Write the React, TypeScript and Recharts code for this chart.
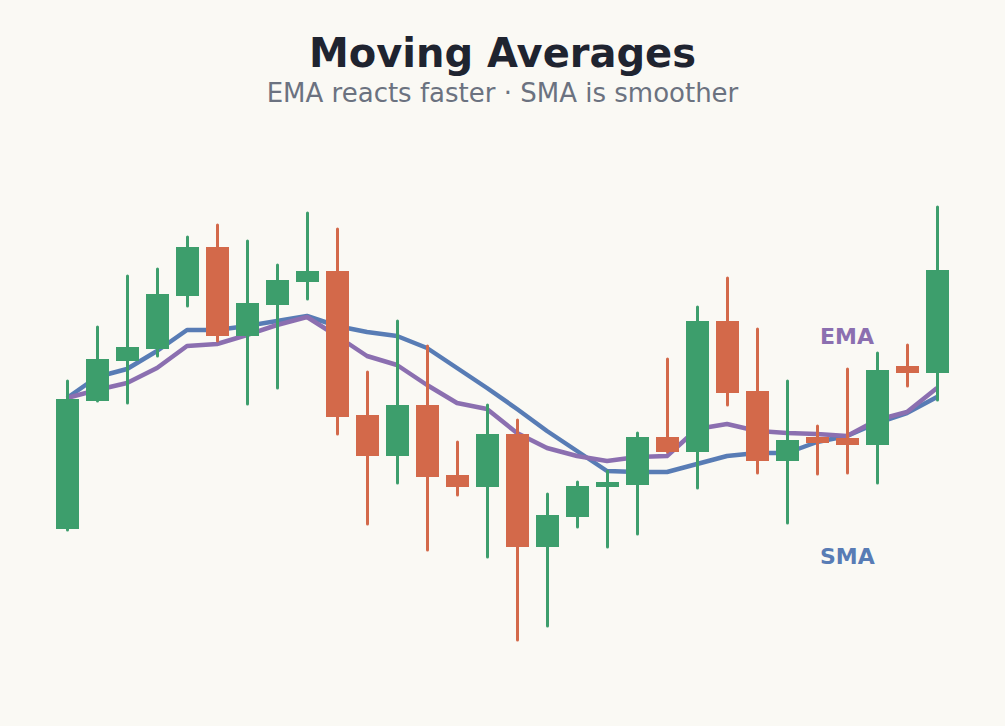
import { ComposedChart, Bar, Line, XAxis, YAxis } from 'recharts';

// candle data (arbitrary price units, no axis shown)
const days = ['1', '2', '3', '4', '5', '6', '7', '8', '9', '10', '11', '12', '13', '14', '15',
    '16', '17', '18', '19', '20', '21', '22', '23', '24', '25', '26', '27', '28', '29', '30'];
const opens = [97.1, 109.9, 113.9, 115.1, 120.4, 125.3, 116.4, 119.5, 121.8, 122.9, 108.5, 104.4, 109.5, 102.5, 101.3,
    106.6, 95.3, 98.3, 101.3, 101.5, 106.3, 104.8, 117.9, 110.9, 103.9, 106.3, 106.2, 105.5, 113.4, 112.7];
const highs = [111.9, 117.3, 122.4, 123.1, 126.3, 127.5, 125.9, 123.5, 128.7, 127.1, 112.8, 117.9, 115.4, 105.8, 109.5,
    108.0, 100.6, 101.8, 102.9, 106.7, 114.1, 119.3, 122.2, 117.1, 111.9, 107.4, 113.1, 114.7, 115.5, 129.3];
const lows = [97.0, 109.9, 109.7, 114.4, 119.4, 115.9, 109.6, 111.2, 120.1, 106.6, 97.6, 101.7, 95.0, 100.5, 94.3,
    86.0, 87.4, 97.3, 95.3, 96.6, 104.8, 101.2, 109.5, 102.7, 97.7, 102.6, 102.7, 101.7, 111.4, 110.0];
const closes = [110.1, 114.1, 115.3, 120.6, 125.3, 116.4, 119.7, 122.0, 122.9, 108.3, 104.4, 109.5, 102.3, 101.3, 106.6,
    95.3, 98.5, 101.4, 101.8, 106.3, 104.8, 117.9, 110.7, 103.9, 106.0, 105.7, 105.5, 113.0, 112.7, 123.0];
const sma = [110.2, 112.3, 113.1, 114.9, 117.0, 117.0, 117.4, 117.9, 118.4, 117.4, 116.8, 116.4, 115.2, 113.2, 111.2,
    109.1, 106.9, 104.9, 102.9, 102.8, 102.8, 103.6, 104.4, 104.7, 104.7, 105.8, 106.4, 107.7, 108.7, 110.3];
const ema = [110.2, 111.0, 111.7, 113.2, 115.4, 115.6, 116.5, 117.5, 118.3, 116.4, 114.4, 113.5, 111.5, 109.7, 109.1,
    106.7, 105.2, 104.4, 103.9, 104.3, 104.4, 107.1, 107.6, 106.9, 106.7, 106.6, 106.4, 108.0, 108.8, 111.2];

const UP = '#3d9e6c';
const DOWN = '#d3694a';
const SMA_COLOR = '#587cb5';
const EMA_COLOR = '#8b6fb0';
const BG = '#faf9f4';

const W = 1005;
const H = 726;
const MARGIN = { top: 100, right: 53, bottom: 26, left: 52 };

const data = days.map((day, i) => ({
    day,
    open: opens[i],
    high: highs[i],
    low: lows[i],
    close: closes[i],
    sma: sma[i],
    ema: ema[i],
}));

// draws wick + body; the bar itself spans low..high, so body ends are
// interpolated inside that pixel range
const Candle = (props: any) => {
    const { x, y, width, height, payload } = props;
    const { open, close, high, low } = payload;
    const top = Math.min(y, y + height);
    const h = Math.abs(height);
    const perUnit = high === low ? 0 : h / (high - low);
    const toY = (v: number) => top + (high - v) * perUnit;
    const color = close >= open ? UP : DOWN;
    const bodyTop = toY(Math.max(open, close));
    const bodyBottom = toY(Math.min(open, close));
    const cx = x + width / 2;
    return (
        <g>
            <line x1={cx} x2={cx} y1={top} y2={top + h} stroke={color} strokeWidth={3} strokeLinecap="round" />
            <rect x={x} y={bodyTop} width={width} height={Math.max(bodyBottom - bodyTop, 2)} fill={color} />
        </g>
    );
};

const layer: React.CSSProperties = { position: 'absolute', left: 0, top: 0 };

export default function App() {
    return (
        <div style={{ position: 'absolute', left: 0, top: 0, width: W, height: H, background: BG, fontFamily: 'DejaVu Sans, sans-serif' }}>
            {/* averages underneath; padding puts points at the band centres of the candle chart */}
            <div style={layer}>
                <ComposedChart width={W} height={H} data={data} margin={MARGIN}>
                    <XAxis dataKey="day" hide padding={{ left: 15, right: 15 }} />
                    <YAxis hide domain={[80, 140]} allowDataOverflow />
                    <Line dataKey="sma" stroke={SMA_COLOR} strokeWidth={4.5} strokeLinejoin="round" dot={false} type="linear" isAnimationActive={false} />
                    <Line dataKey="ema" stroke={EMA_COLOR} strokeWidth={4.5} strokeLinejoin="round" dot={false} type="linear" isAnimationActive={false} />
                </ComposedChart>
            </div>
            {/* candles on top, same y scale */}
            <div style={layer}>
                <ComposedChart width={W} height={H} data={data} margin={MARGIN} barCategoryGap={0}>
                    <XAxis dataKey="day" hide />
                    <YAxis hide domain={[80, 140]} allowDataOverflow />
                    <Bar dataKey={(d: any) => [d.low, d.high]} barSize={23} shape={Candle} isAnimationActive={false} />
                </ComposedChart>
            </div>
            <svg width={W} height={H} style={{ ...layer, pointerEvents: 'none' }}>
                <text x={502.5} y={67} textAnchor="middle" fontSize={40} fontWeight="bold" fill="#1f2430">Moving Averages</text>
                <text x={502.5} y={102} textAnchor="middle" fontSize={26} fill="#6b7280">EMA reacts faster · SMA is smoother</text>
                <text x={820} y={344} fontSize={22} fontWeight="bold" fill={EMA_COLOR}>EMA</text>
                <text x={820} y={564} fontSize={22} fontWeight="bold" fill={SMA_COLOR}>SMA</text>
            </svg>
        </div>
    );
}
